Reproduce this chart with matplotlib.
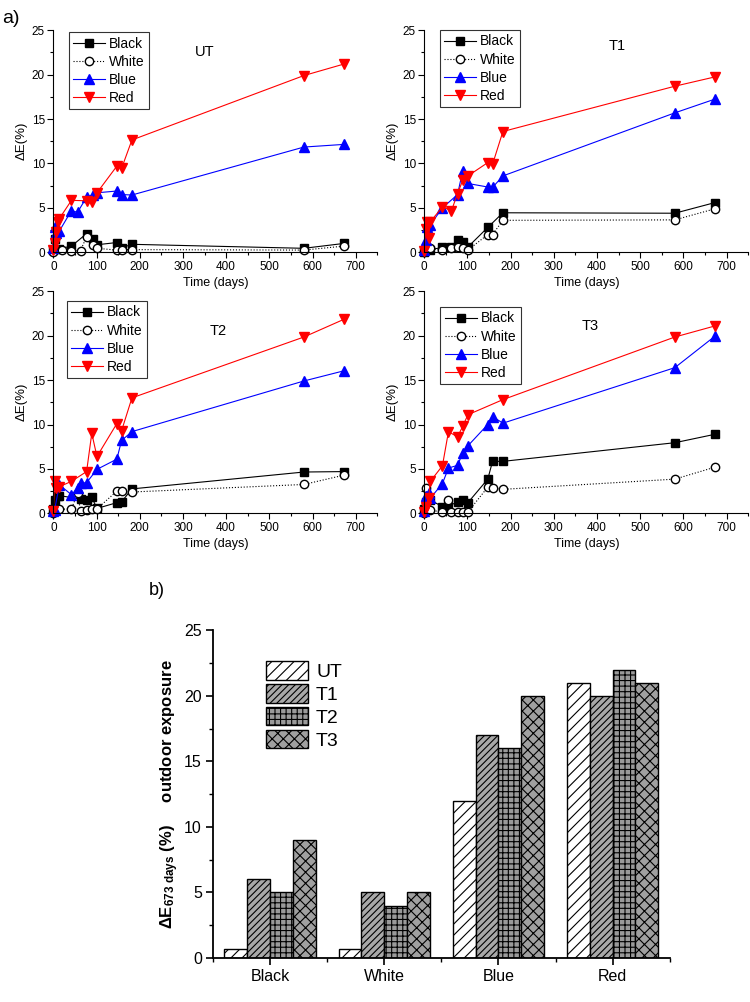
import matplotlib.pyplot as plt
from matplotlib.ticker import MultipleLocator

plt.rcParams['font.family'] = ['Liberation Sans', 'DejaVu Sans']
plt.rcParams['mathtext.default'] = 'regular'
plt.rcParams['hatch.linewidth'] = 0.8

# ---- a) colour change vs time (days, delta E %) ----
ut_black_t = [0, 3, 14, 42, 77, 91, 101, 147, 158, 182, 580, 673]
ut_black = [0.3, 1.5, 0.4, 0.7, 2.1, 1.45, 0.85, 1.1, 0.5, 0.9, 0.45, 1.0]
ut_white_t = [0, 21, 42, 63, 77, 91, 101, 147, 158, 182, 580, 673]
ut_white = [0.0, 0.25, 0.2, 0.2, 1.75, 0.8, 0.45, 0.25, 0.3, 0.3, 0.25, 0.7]
ut_blue_t = [0, 3, 7, 14, 42, 56, 77, 91, 101, 147, 158, 182, 580, 673]
ut_blue = [0.5, 2.8, 2.2, 2.4, 4.7, 4.5, 6.2, 6.5, 6.7, 6.9, 6.5, 6.45, 11.85, 12.15]
ut_red_t = [0, 3, 7, 10, 14, 42, 77, 89, 101, 147, 158, 182, 580, 673]
ut_red = [0.3, 1.0, 2.3, 3.4, 3.8, 5.85, 5.8, 5.65, 6.7, 9.7, 9.45, 12.65, 19.9, 21.2]

t1_black_t = [0, 7, 14, 42, 63, 77, 89, 101, 147, 182, 580, 673]
t1_black = [0.0, 0.4, 0.3, 0.55, 0.6, 1.35, 1.15, 0.6, 2.8, 4.45, 4.4, 5.6]
t1_white_t = [0, 14, 42, 63, 77, 89, 101, 147, 158, 182, 580, 673]
t1_white = [0.0, 0.45, 0.25, 0.5, 0.55, 0.5, 0.25, 2.0, 2.0, 3.6, 3.65, 4.9]
t1_blue_t = [0, 3, 7, 14, 42, 77, 89, 101, 147, 158, 182, 580, 673]
t1_blue = [0.3, 1.4, 2.9, 3.1, 5.0, 6.5, 9.2, 7.75, 7.35, 7.3, 8.6, 15.7, 17.25]
t1_red_t = [0, 3, 7, 10, 14, 42, 63, 77, 89, 101, 147, 158, 182, 580, 673]
t1_red = [0.2, 2.6, 3.45, 1.6, 3.45, 5.1, 4.7, 6.6, 8.1, 8.6, 10.1, 9.9, 13.6, 18.7, 19.75]

t2_black_t = [0, 3, 10, 14, 63, 77, 89, 101, 147, 158, 182, 580, 673]
t2_black = [0.5, 1.5, 1.9, 2.0, 1.6, 1.5, 1.8, 0.55, 1.2, 1.3, 2.75, 4.65, 4.7]
t2_white_t = [0, 14, 42, 56, 63, 77, 89, 101, 147, 158, 182, 580, 673]
t2_white = [0.0, 0.45, 0.5, 2.25, 0.3, 0.35, 0.45, 0.5, 2.5, 2.5, 2.4, 3.25, 4.3]
t2_blue_t = [0, 3, 14, 42, 56, 63, 77, 101, 147, 158, 182, 580, 673]
t2_blue = [0.3, 0.4, 3.2, 2.1, 2.8, 3.4, 3.45, 4.95, 6.1, 8.2, 9.2, 14.9, 16.05]
t2_red_t = [0, 3, 7, 14, 42, 77, 89, 101, 147, 158, 182, 580, 673]
t2_red = [0.3, 3.6, 2.8, 3.0, 3.6, 4.7, 9.0, 6.4, 10.1, 9.3, 13.0, 19.85, 21.85]

t3_black_t = [0, 3, 14, 42, 56, 77, 89, 101, 147, 158, 182, 580, 673]
t3_black = [0.5, 1.3, 1.5, 0.75, 0.8, 1.3, 1.45, 1.2, 3.85, 5.85, 5.85, 7.95, 8.9]
t3_white_t = [0, 3, 14, 42, 56, 63, 77, 89, 101, 147, 158, 182, 580, 673]
t3_white = [0.0, 2.85, 0.4, 0.1, 1.45, 0.2, 0.2, 0.2, 0.15, 2.95, 2.9, 2.7, 3.85, 5.2]
t3_blue_t = [0, 3, 10, 14, 42, 56, 77, 89, 101, 147, 158, 182, 580, 673]
t3_blue = [0.3, 1.9, 2.25, 1.7, 3.35, 5.1, 5.4, 6.8, 7.6, 10.0, 10.9, 10.15, 16.4, 19.95]
t3_red_t = [0, 3, 10, 14, 42, 56, 77, 89, 101, 182, 580, 673]
t3_red = [0.2, 0.75, 1.7, 3.6, 5.35, 9.2, 8.6, 9.8, 11.1, 12.8, 19.85, 21.1]

series_names = ['Black', 'White', 'Blue', 'Red']

# ---- b) delta E after 673 days ----
colours = ['Black', 'White', 'Blue', 'Red']
treatments = ['UT', 'T1', 'T2', 'T3']
de_ut = [0.7, 0.7, 12, 21]
de_t1 = [6, 5, 17, 20]
de_t2 = [5, 4, 16, 22]
de_t3 = [9, 5, 20, 21]

styles = [
    dict(color='black', ls='-', marker='s', mfc='black', mec='black', ms=6),
    dict(color='black', ls=':', marker='o', mfc='white', mec='black', ms=6),
    dict(color='blue', ls='-', marker='^', mfc='blue', mec='blue', ms=7),
    dict(color='red', ls='-', marker='v', mfc='red', mec='red', ms=7),
]

fig = plt.figure(figsize=(7.5, 10.02), dpi=100)


def panel(rect, title, data, leg_xy, title_xy):
    ax = fig.add_axes(rect)
    for name, (t, v), st in zip(series_names, data, styles):
        ax.plot(t, v, lw=0.8, label=name, clip_on=False, **st)
    ax.set_xlim(0, 750)
    ax.set_ylim(0, 25)
    ax.xaxis.set_major_locator(MultipleLocator(100))
    ax.xaxis.set_minor_locator(MultipleLocator(50))
    ax.yaxis.set_major_locator(MultipleLocator(5))
    ax.yaxis.set_minor_locator(MultipleLocator(2.5))
    ax.tick_params(which='major', direction='out', length=4, width=0.8, labelsize=8.5, pad=2)
    ax.tick_params(which='minor', direction='out', length=2.5, width=0.8)
    for s in ['top', 'right']:
        ax.spines[s].set_visible(False)
    ax.set_xlabel('Time (days)', fontsize=9, labelpad=3)
    ax.set_ylabel('ΔE(%)', fontsize=9.5, labelpad=3)
    ax.text(title_xy[0], title_xy[1], title, transform=ax.transAxes,
            ha='center', va='center', fontsize=10.5)
    leg = ax.legend(loc='upper left', bbox_to_anchor=leg_xy, borderaxespad=0,
                    fontsize=10, handlelength=2.3, handletextpad=0.3,
                    labelspacing=0.3, borderpad=0.3, fancybox=False,
                    edgecolor='black')
    leg.get_frame().set_linewidth(0.8)
    return ax


w, h = 0.432, 0.2216
panel([0.0711, 0.7482, w, h], 'UT',
      [(ut_black_t, ut_black), (ut_white_t, ut_white),
       (ut_blue_t, ut_blue), (ut_red_t, ut_red)],
      (0.048, 0.99), (0.468, 0.9))
panel([0.5657, 0.7482, w, h], 'T1',
      [(t1_black_t, t1_black), (t1_white_t, t1_white),
       (t1_blue_t, t1_blue), (t1_red_t, t1_red)],
      (0.048, 1.0), (0.595, 0.93))
panel([0.0711, 0.4877, w, h], 'T2',
      [(t2_black_t, t2_black), (t2_white_t, t2_white),
       (t2_blue_t, t2_blue), (t2_red_t, t2_red)],
      (0.041, 0.955), (0.508, 0.82))
panel([0.5657, 0.4877, w, h], 'T3',
      [(t3_black_t, t3_black), (t3_white_t, t3_white),
       (t3_blue_t, t3_blue), (t3_red_t, t3_red)],
      (0.05, 0.928), (0.511, 0.845))

fig.text(0.003, 0.982, 'a)', fontsize=14, va='center')

# bar chart
ax = fig.add_axes([0.284, 0.0439, 0.609, 0.327])
bar_w = 0.2
faces = ['white', '#a8a8a8', '#9a9a9a', '#a0a0a0']
hatches = ['///', '/////', '+++', 'xxx']
for i, (vals, fc, ht, lab) in enumerate(zip([de_ut, de_t1, de_t2, de_t3], faces, hatches, treatments)):
    xs = [j + (i - 1.5) * bar_w for j in range(len(colours))]
    ax.bar(xs, vals, width=bar_w, color=fc, edgecolor='black', hatch=ht,
           linewidth=1.0, label=lab)
ax.set_xlim(-0.5, 3.5)
ax.set_ylim(0, 25)
ax.set_xticks(range(len(colours)))
ax.set_xticklabels(colours, fontsize=11.5)
ax.set_xticks([-0.5, 0.5, 1.5, 2.5, 3.5], minor=True)
ax.yaxis.set_major_locator(MultipleLocator(5))
ax.yaxis.set_minor_locator(MultipleLocator(2.5))
ax.tick_params(axis='y', labelsize=11.5)
ax.tick_params(which='major', direction='out', length=5, width=1.2, pad=3)
ax.tick_params(which='minor', direction='out', length=3, width=1.0)
for s in ['top', 'right']:
    ax.spines[s].set_visible(False)
for s in ['left', 'bottom']:
    ax.spines[s].set_linewidth(1.3)
ax.set_ylabel('ΔE$_{673\\ days}$ (%)     outdoor exposure', fontsize=12,
              fontweight='bold', labelpad=2)
ax.legend(loc='upper left', bbox_to_anchor=(0.098, 0.93), borderaxespad=0,
          frameon=False, fontsize=14,
          handlelength=2.2, handleheight=1.1, labelspacing=0.15,
          handletextpad=0.4)

fig.text(0.198, 0.411, 'b)', fontsize=13, va='center')

fig.savefig('out.png', dpi=100)
